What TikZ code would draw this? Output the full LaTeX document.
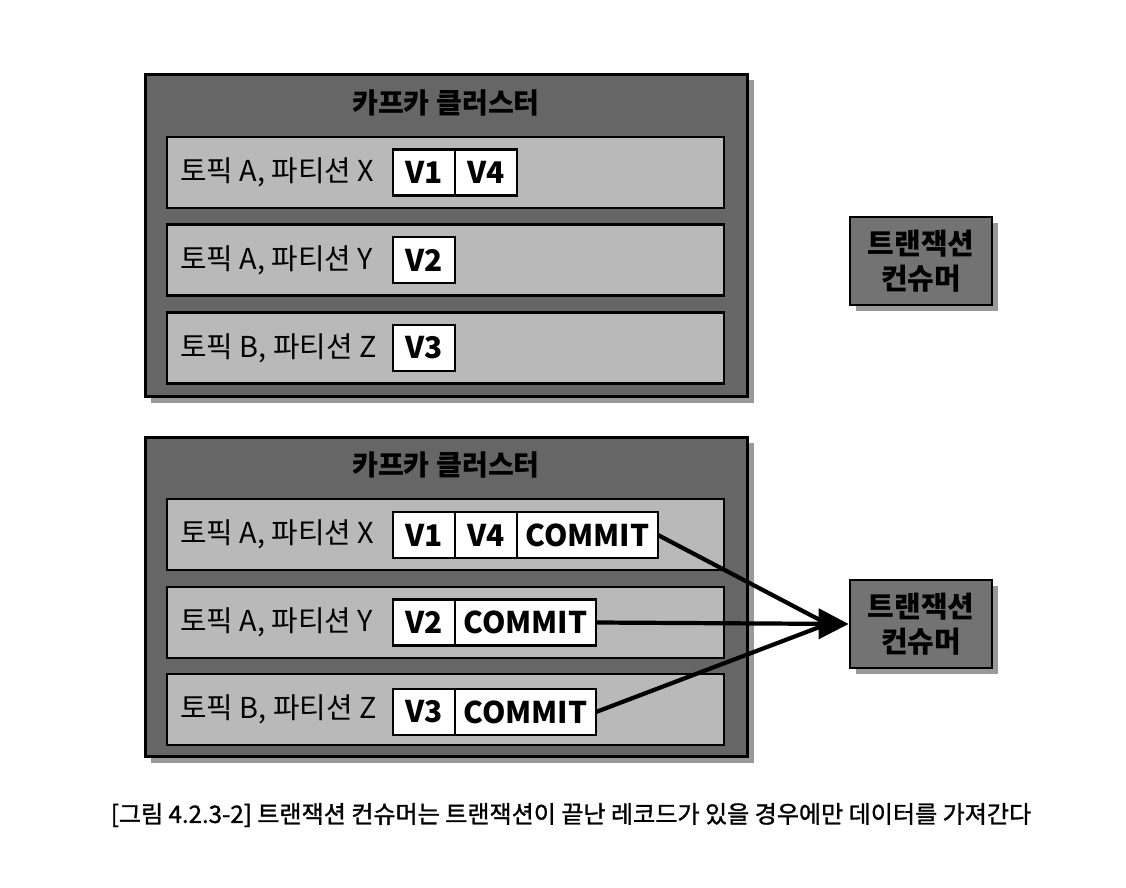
\documentclass[tikz,border=0pt]{standalone}
\usepackage{fontspec}
\setmainfont{Noto Sans CJK KR}
\newfontfamily\capfont[FakeBold=1.2]{Noto Sans CJK KR}
\usetikzlibrary{arrows.meta,positioning,shadows}
\definecolor{Cluster}{HTML}{666666}
\definecolor{Row}{HTML}{B9B9B9}
\definecolor{Consumer}{HTML}{737373}
\tikzset{
  shade/.style={drop shadow={shadow xshift=3.5pt, shadow yshift=-3.5pt, opacity=.4, fill=black}},
  cluster/.style={
    draw=black, line width=1.7pt, fill=Cluster, shade,
    minimum width=12.06cm, minimum height=6.46cm, inner sep=0pt
  },
  title/.style={font=\fontsize{16}{19}\selectfont\bfseries},
  partition/.style={
    draw=black, line width=1.6pt, fill=Row,
    minimum width=11.14cm, minimum height=1.42cm, inner sep=0pt
  },
  plabel/.style={anchor=west, inner sep=0pt, font=\fontsize{16.4}{19}\selectfont},
  cell/.style={
    draw=black, line width=1.4pt, fill=white, outer sep=0pt, inner sep=0pt,
    minimum width=1.24cm, minimum height=0.92cm, font=\fontsize{17}{19}\selectfont\bfseries
  },
  commit/.style={cell, minimum width=2.82cm},
  consumer/.style={
    draw=black, line width=1.6pt, fill=Consumer, shade, align=center,
    minimum width=2.84cm, minimum height=1.76cm, inner sep=0pt,
    font=\fontsize{16.5}{20}\selectfont\bfseries
  },
  fetch/.style={line width=2.4pt, draw=black},
  fetchtip/.style={fetch, -{Triangle[length=6mm, width=6mm]}}
}

\begin{document}
\begin{tikzpicture}[x=0.02cm, y=-0.02cm]
  \useasboundingbox (0,0) rectangle (1126,888);

  % before the commit
  \node[cluster] (kafkaA) at (446.5,235.5) {};
  \node[title] (titleA) at (446,103) {카프카 클러스터};
  \node[partition] (rowAX) at (445.5,172.5) {};
  \node[partition] (rowAY) at (445.5,260) {};
  \node[partition] (rowBZ) at (445.5,348) {};
  \node[plabel] (labAX) at (180,172.5) {토픽 A, 파티션 X};
  \node[plabel] (labAY) at (180,260) {토픽 A, 파티션 Y};
  \node[plabel] (labBZ) at (180,348) {토픽 B, 파티션 Z};
  \node[cell,anchor=west] (v1) at (393,172.5) {V1};
  \node[cell,right=0pt of v1] (v4) {V4};
  \node[cell,anchor=west] (v2) at (393,260) {V2};
  \node[cell,anchor=west] (v3) at (393,348) {V3};
  \node[consumer] (txA) at (921,261) {트랜잭션\\컨슈머};

  % after the commit
  \node[cluster,minimum height=6.4cm] (kafkaB) at (446.5,597) {};
  \node[title] (titleB) at (446,465) {카프카 클러스터};
  \node[partition] (rowAX2) at (445.5,534.5) {};
  \node[partition] (rowAY2) at (445.5,622.5) {};
  \node[partition] (rowBZ2) at (445.5,709.5) {};
  \node[plabel] (labAX2) at (180,534.5) {토픽 A, 파티션 X};
  \node[plabel] (labAY2) at (180,622.5) {토픽 A, 파티션 Y};
  \node[plabel] (labBZ2) at (180,709.5) {토픽 B, 파티션 Z};
  \node[cell,anchor=west] (w1) at (393,535) {V1};
  \node[cell,right=0pt of w1] (w4) {V4};
  \node[commit,right=0pt of w4] (cX) {COMMIT};
  \node[cell,anchor=west] (w2) at (393,622.5) {V2};
  \node[commit,right=0pt of w2] (cY) {COMMIT};
  \node[cell,anchor=west] (w3) at (393,712) {V3};
  \node[commit,right=0pt of w3] (cZ) {COMMIT};
  \node[consumer] (txB) at (921,624) {트랜잭션\\컨슈머};

  \coordinate (merge) at ([xshift=-12pt]txB.west);
  \draw[fetch] (cX.east) -- (merge);
  \draw[fetch] (cZ.east) -- (merge);
  \draw[fetchtip] (cY.east) -- (txB.west);

  \node[font=\capfont\fontsize{13.7}{16}\selectfont] (caption) at (571,815)
    {[그림 4.2.3-2] 트랜잭션 컨슈머는 트랜잭션이 끝난 레코드가 있을 경우에만 데이터를 가져간다};
\end{tikzpicture}
\end{document}
